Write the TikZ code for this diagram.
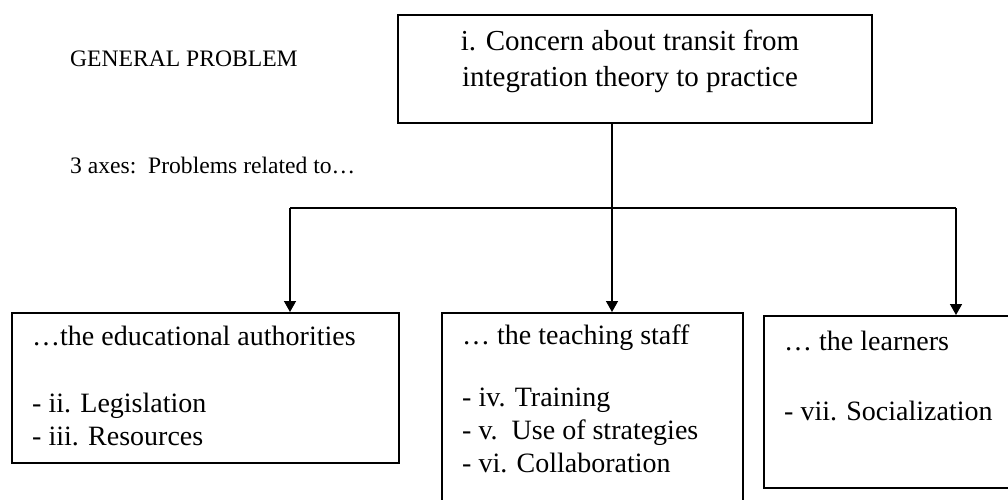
\documentclass[tikz,border=0pt]{standalone}
\usepackage{fontspec}
\setmainfont{Liberation Serif}
\usetikzlibrary{arrows.meta}
\begin{document}
\begin{tikzpicture}[x=1pt,y=-1pt,
  box/.style={draw=black,line width=1.6pt,inner sep=0pt,anchor=north west},
  conn/.style={draw=black,line width=1.4pt},
  arr/.style={conn,-{Triangle[width=12pt,length=11pt]}},
  small/.style={font=\fontsize{23.6}{28}\selectfont,inner sep=0pt,anchor=base west},
  big/.style={font=\fontsize{28}{33.5}\selectfont,inner sep=0pt,anchor=base west},
  bigtop/.style={font=\fontsize{29}{36}\selectfont,inner sep=0pt,anchor=base}]
\useasboundingbox (0,0) rectangle (1008,499);
\clip (0,0) rectangle (1008,499);
\fill[white] (0,0) rectangle (1008,499);

% boxes
\node[box,minimum width=474pt,minimum height=108pt] (top) at (397,14) {};
\node[box,minimum width=387pt,minimum height=150pt] (left) at (11,312) {};
\node[box,minimum width=301pt,minimum height=200pt] (mid) at (441,312) {};
\node[box,minimum width=260pt,minimum height=172pt] (right) at (763,315) {};

% texts
\node[small] (gp) at (70,66) {GENERAL PROBLEM};
\node[small] (axes) at (70,173) {3 axes:\ \ Problems related to…};

\node[bigtop] (t1) at (630,50) {i. Concern about transit from};
\node[bigtop] (t2) at (630,86) {integration theory to practice};

\node[big] (l1) at (32,345) {…the educational authorities};
\node[big] (l2) at (32,412) {- ii. Legislation};
\node[big] (l3) at (32,445) {- iii. Resources};

\node[big] (m1) at (462,344) {… the teaching staff};
\node[big] (m2) at (462,406) {- iv. Training};
\node[big] (m3) at (462,439) {- v.\ \ Use of strategies};
\node[big] (m4) at (462,472) {- vi. Collaboration};

\node[big] (r1) at (784,350) {… the learners};
\node[big] (r2) at (784,420) {- vii. Socialization};

% connectors
\coordinate (j) at (612,208);
\coordinate (jl) at (290,208);
\coordinate (jr) at (956,208);
\draw[conn] (top.south -| j) -- (j);
\draw[conn] (jl) -- (jr);
\draw[arr] (jl) -- (jl |- left.north);
\draw[arr] (j) -- (j |- mid.north);
\draw[arr] (jr) -- (jr |- right.north);
\end{tikzpicture}
\end{document}
